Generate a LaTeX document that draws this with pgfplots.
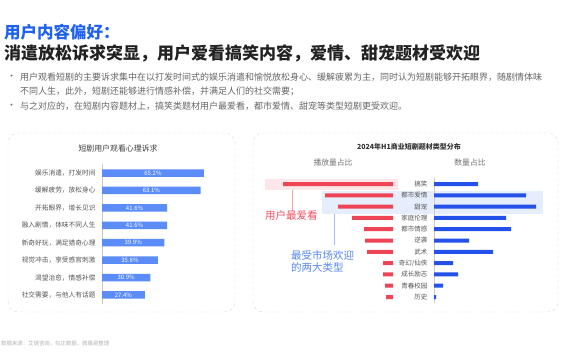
\documentclass[border=0pt]{standalone}
\usepackage{fontspec}
\setmainfont{Noto Sans CJK SC}
\usepackage{pgfplots}
\pgfplotsset{compat=1.18}
\definecolor{ttlblue}{HTML}{1F62F0}
\definecolor{ttlblack}{HTML}{222222}
\definecolor{txtgray}{HTML}{666666}
\definecolor{labgray}{HTML}{555555}
\definecolor{panelgray}{HTML}{D8D8D8}
\definecolor{barblue}{HTML}{5B8CF7}
\definecolor{redbar}{HTML}{EE4456}
\definecolor{bluebar}{HTML}{2451EA}
\definecolor{pinkbox}{HTML}{FDE6E9}
\definecolor{lblbox}{HTML}{E6EDFC}
\definecolor{annred}{HTML}{F0505F}
\definecolor{annblue}{HTML}{5687F0}
\begin{document}
\begin{tikzpicture}[x=1pt,y=1pt]
\useasboundingbox (0,0) rectangle (570,360);
\fill[white] (0,0) rectangle (570,360);
% header
\node[anchor=west, inner sep=0, font=\fontsize{16.5}{16.5}\selectfont\bfseries, text=ttlblue] at (4,328) {用户内容偏好：};
\node[anchor=west, inner sep=0, font=\fontsize{17}{17}\selectfont\bfseries, text=ttlblack] at (4,307) {消遣放松诉求突显，用户爱看搞笑内容，爱情、甜宠题材受欢迎};
% bullets
\begin{scope}[font=\fontsize{9}{9}\selectfont, text=txtgray]
\node[anchor=west, inner sep=0] at (7,283) {•};
\node[anchor=west, inner sep=0] at (20,283) {用户观看短剧的主要诉求集中在以打发时间式的娱乐消遣和愉悦放松身心、缓解疲累为主，同时认为短剧能够开拓眼界，随剧情体味};
\node[anchor=west, inner sep=0] at (20,269) {不同人生，此外，短剧还能够进行情感补偿，并满足人们的社交需要；};
\node[anchor=west, inner sep=0] at (7,254) {•};
\node[anchor=west, inner sep=0] at (20,254) {与之对应的，在短剧内容题材上，搞笑类题材用户最爱看，都市爱情、甜宠等类型短剧更受欢迎。};
\end{scope}
% panels
\draw[panelgray, dashed, rounded corners=10pt] (8,48) rectangle (235,227);
\draw[panelgray, dashed, rounded corners=10pt] (253,48) rectangle (558,227);
% footer
\node[anchor=west, inner sep=0, font=\fontsize{5.4}{5.4}\selectfont, text=black!30] at (1,16) {数据来源：艾瑞咨询，勾正数据，微播易整理};
% left chart title
\node[font=\fontsize{7.9}{8}\selectfont, text=black!75] at (118,212) {短剧用户观看心理诉求};
% left chart
\begin{axis}[at={(102pt,195.7pt)}, anchor=north west, scale only axis,
  width=109.5pt, height=139.4pt, xmin=0, xmax=70, ymin=-0.5, ymax=7.5,
  y dir=reverse, axis x line=none, axis y line*=left,
  y axis line style={draw=black!20, line width=0.6pt},
  ytick={0,...,7}, major tick length=0,
  yticklabels={娱乐消遣，打发时间,缓解疲劳，放松身心,开拓眼界，增长见识,融入剧情，体味不同人生,新奇好玩，满足猎奇心理,视觉冲击，享受感官刺激,渴望治愈，情感补偿,社交需要，与他人有话题},
  yticklabel style={font=\fontsize{6.7}{7}\selectfont, text=labgray, xshift=-3pt},
  clip=false]
\addplot[xbar, bar width=7.5pt, bar shift=0pt, fill=barblue, draw=none] coordinates {(65.2,0) (63.1,1) (41.6,2) (41.6,3) (39.9,4) (35.8,5) (30.9,6) (27.4,7)};
\addplot[only marks, mark=none, nodes near coords, point meta=explicit symbolic,
  nodes near coords style={font=\fontsize{6}{6}\selectfont, text=white, anchor=center, inner sep=0}]
  coordinates {(32.6,0) [65.2\%] (31.55,1) [63.1\%] (20.8,2) [41.6\%] (20.8,3) [41.6\%] (19.95,4) [39.9\%] (17.9,5) [35.8\%] (15.45,6) [30.9\%] (13.7,7) [27.4\%]};
\end{axis}
% right chart titles
\node[font=\fontsize{7}{7}\selectfont\bfseries, text=black!80] at (409,213) {2024年H1商业短剧题材类型分布};
\node[font=\fontsize{7.8}{8}\selectfont, text=black!55] at (333,197) {播放量占比};
\node[font=\fontsize{7.8}{8}\selectfont, text=black!55] at (470,197) {数量占比};
% highlight boxes
\fill[pinkbox] (265,170) rectangle (398,181);
\fill[lblbox] (322,146) rectangle (543,169);
% annotations
\draw[annred!55, line width=0.8pt] (292,170) -- (292,149);
\node[anchor=west, inner sep=0, font=\fontsize{10.5}{10.5}\selectfont, text=annred] at (265,144) {用户最爱看};
\draw[annblue!55, line width=0.8pt] (334,146) -- (334,115);
\node[anchor=west, inner sep=0, font=\fontsize{10.5}{10.5}\selectfont, text=annblue] at (291,105) {最受市场欢迎};
\node[anchor=west, inner sep=0, font=\fontsize{10.5}{10.5}\selectfont, text=annblue] at (291,93) {的两大类型};
% red chart (play share)
\begin{axis}[at={(273pt,181.65pt)}, anchor=north west, scale only axis,
  width=120pt, height=124.3pt, xmin=0, xmax=30, ymin=-0.5, ymax=10.5,
  x dir=reverse, y dir=reverse, hide axis, clip=false]
\addplot[xbar, bar width=4pt, bar shift=0pt, fill=redbar, draw=none] coordinates {(27.5,0) (17,1) (13.75,2) (10.25,3) (7.25,4) (7,5) (6.5,6) (2.5,7) (2.5,8) (2,9) (1.75,10)};
\end{axis}
% blue chart (count share)
\begin{axis}[at={(434pt,181.65pt)}, anchor=north west, scale only axis,
  width=120pt, height=124.3pt, xmin=0, xmax=30, ymin=-0.5, ymax=10.5,
  y dir=reverse, axis x line=none, axis y line*=left,
  y axis line style={draw=black!20, line width=0.6pt},
  ytick={0,...,10}, major tick length=0,
  yticklabels={搞笑,都市爱情,甜宠,家庭伦理,都市情感,逆袭,武术,奇幻/仙侠,成长励志,青春校园,历史},
  yticklabel style={font=\fontsize{6.5}{6.5}\selectfont, text=labgray, xshift=-3pt},
  clip=false]
\addplot[xbar, bar width=4pt, bar shift=0pt, fill=bluebar, draw=none] coordinates {(11,0) (23,1) (25.5,2) (18,3) (19.25,4) (8.75,5) (14.75,6) (4.75,7) (6,8) (2.25,9) (0.5,10)};
\end{axis}
\end{tikzpicture}
\end{document}
